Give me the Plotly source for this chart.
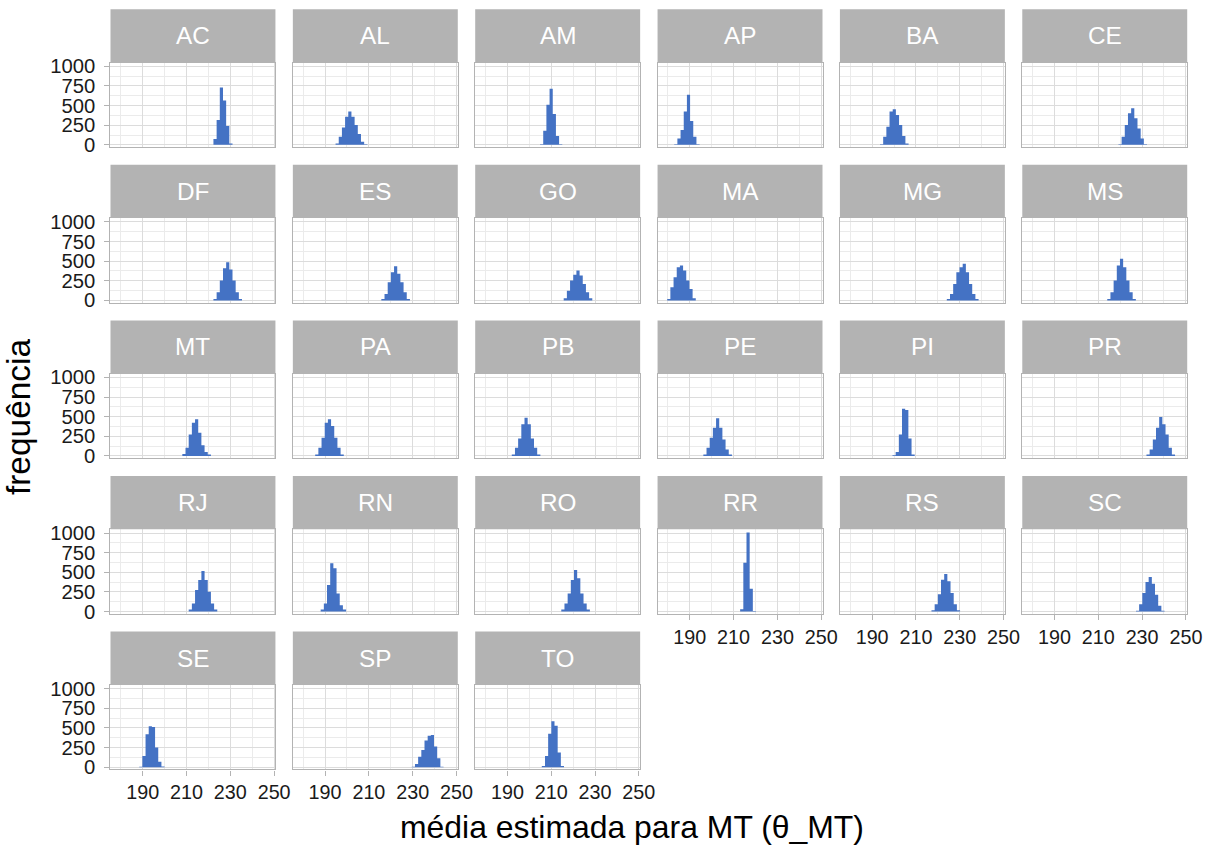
import plotly.graph_objects as go

# ---------------- data ----------------
STATES = ["AC", "AL", "AM", "AP", "BA", "CE",
          "DF", "ES", "GO", "MA", "MG", "MS",
          "MT", "PA", "PB", "PE", "PI", "PR",
          "RJ", "RN", "RO", "RR", "RS", "SC",
          "SE", "SP", "TO"]

BIN_WIDTH = 1.45

FIRST_EDGE = [222.3, 194.8, 204.9, 182.9, 193.6, 219.2,
              222.3, 215.7, 215.7, 179.7, 224.1, 214.1,
              208.1, 185.5, 192.0, 196.2, 199.3, 232.0,
              211.0, 188.0, 214.6, 213.0, 217.1, 227.2,
              188.4, 229.6, 205.7]

COUNTS = [
    [73, 316, 731, 564, 240, 17],                      # AC
    [17, 103, 222, 359, 423, 359, 252, 137, 38, 9],    # AL
    [9, 180, 509, 714, 393, 111, 9],                   # AM
    [9, 81, 188, 423, 637, 303, 103, 9],               # AP
    [9, 103, 231, 423, 453, 380, 252, 111, 17],        # BA
    [9, 103, 252, 402, 466, 338, 209, 81, 9],          # CE
    [17, 103, 252, 410, 487, 393, 252, 103, 17],       # DF
    [17, 81, 231, 359, 436, 338, 231, 103, 17],        # ES
    [26, 124, 252, 325, 380, 316, 209, 103, 26],       # GO
    [17, 166, 295, 423, 444, 380, 252, 145, 26],       # MA
    [17, 81, 209, 359, 423, 466, 359, 209, 81, 17],    # MG
    [17, 103, 252, 444, 530, 423, 252, 103, 17],       # MS
    [26, 103, 274, 423, 466, 295, 137, 51, 17],        # MT
    [17, 103, 231, 423, 466, 380, 231, 103, 17],       # PA
    [17, 103, 222, 402, 487, 402, 222, 103, 17],       # PB
    [17, 103, 231, 359, 479, 359, 209, 81, 17],        # PE
    [9, 51, 274, 600, 585, 222, 17],                   # PI
    [17, 81, 209, 359, 496, 402, 274, 103, 17],        # PR
    [26, 103, 274, 402, 515, 402, 252, 103, 26],       # RJ
    [26, 103, 338, 615, 551, 231, 81, 26],             # RN
    [26, 103, 231, 402, 530, 423, 231, 103, 26],       # RO
    [30, 620, 1008, 290, 8],                           # RR
    [17, 94, 222, 406, 478, 385, 235, 94, 17],         # RS
    [9, 94, 235, 376, 440, 355, 214, 73, 9],           # SC
    [5, 142, 420, 519, 510, 249, 69, 8],               # SE
    [4, 39, 133, 219, 339, 399, 408, 262, 112, 4],     # SP
    [13, 142, 425, 584, 528, 185, 13],                 # TO
]

X_TICKS = [190, 210, 230, 250]
X_MINOR = [180, 200, 220, 240]
Y_TICKS = [0, 250, 500, 750, 1000]
Y_MINOR = [125, 375, 625, 875]
X_RANGE = [175.3, 250.6]
Y_RANGE = [-30, 1048]

X_TITLE = "média estimada para MT (θ_MT)"
Y_TITLE = "frequência"

# ---------------- layout geometry (target pixels) ----------------
W, H = 1214, 847
# the captured page shows the figure slightly reduced; compensate
SX, OX = 0.9868, 2.0
SY, OY = 0.9846, 6.0


def fx(p):
    return ((p - OX) / SX) / W


def fy(p):
    return 1 - ((p - OY) / SY) / H


def fs(s):
    return s / SX


COL_LEFT = [112.4, 294.6, 476.8, 659.0, 841.2, 1023.4]
PANEL_W = 164.8
ROW_TOP = [8.3, 164.4, 320.5, 476.7, 632.8]
STRIP_H = 53.4
PLOT_H = 85.0
NCOL = 6

FONT = "Liberation Sans, Arial, sans-serif"
BAR_COLOR = "#4472C4"
STRIP_COLOR = "#b3b3b3"
BORDER_COLOR = "#b3b3b3"
GRID_MAJOR = "#dcdcdc"
GRID_MINOR = "#ebebeb"

fig = go.Figure()
layout = dict(
    width=W, height=H,
    margin=dict(l=0, r=0, t=0, b=0),
    paper_bgcolor="white", plot_bgcolor="white",
    showlegend=False,
    font=dict(family=FONT, color="#1a1a1a"),
)
shapes = []
annotations = []

n = len(STATES)
for i, st in enumerate(STATES):
    r, c = divmod(i, NCOL)
    k = i + 1
    xa = "x" if k == 1 else f"x{k}"
    ya = "y" if k == 1 else f"y{k}"
    L = COL_LEFT[c]
    T = ROW_TOP[r]
    x0, x1 = fx(L), fx(L + PANEL_W)
    y_top = fy(T + STRIP_H)
    y_bot = fy(T + STRIP_H + PLOT_H)

    cnt = COUNTS[i]
    edges = [FIRST_EDGE[i] + BIN_WIDTH * j for j in range(len(cnt) + 1)]
    fig.add_trace(go.Scatter(
        x=edges, y=cnt + [cnt[-1]], mode="lines",
        line=dict(shape="hv", width=0, color=BAR_COLOR),
        fill="tozeroy", fillcolor=BAR_COLOR,
        xaxis=xa, yaxis=ya, showlegend=False, name=st,
    ))

    show_x = (i + NCOL) >= n
    show_y = (c == 0)

    layout["xaxis" if k == 1 else f"xaxis{k}"] = dict(
        domain=[x0, x1], anchor=ya, range=X_RANGE,
        tickmode="array", tickvals=X_TICKS,
        showticklabels=show_x, ticks="outside" if show_x else "",
        ticklen=5, tickcolor=BORDER_COLOR, tickwidth=1,
        tickfont=dict(size=fs(19.5), color="#1a1a1a", family=FONT),
        showgrid=True, gridcolor=GRID_MAJOR, gridwidth=1,
        minor=dict(tickmode="array", tickvals=X_MINOR,
                   showgrid=True, gridcolor=GRID_MINOR, gridwidth=0.8, ticks=""),
        showline=True, mirror=True, linecolor=BORDER_COLOR, linewidth=1.3,
        zeroline=False, fixedrange=True,
    )
    layout["yaxis" if k == 1 else f"yaxis{k}"] = dict(
        domain=[y_bot, y_top], anchor=xa, range=Y_RANGE,
        tickmode="array", tickvals=Y_TICKS,
        showticklabels=show_y, ticks="outside" if show_y else "",
        ticklen=5, tickcolor=BORDER_COLOR, tickwidth=1,
        ticklabelstandoff=5,
        tickfont=dict(size=fs(20), color="#1a1a1a", family=FONT),
        showgrid=True, gridcolor=GRID_MAJOR, gridwidth=1,
        minor=dict(tickmode="array", tickvals=Y_MINOR,
                   showgrid=True, gridcolor=GRID_MINOR, gridwidth=0.8, ticks=""),
        showline=True, mirror=True, linecolor=BORDER_COLOR, linewidth=1.3,
        zeroline=False, fixedrange=True,
    )

    shapes.append(dict(
        type="rect", xref="paper", yref="paper",
        x0=x0, x1=x1, y0=y_top, y1=fy(T),
        fillcolor=STRIP_COLOR, line=dict(width=0), layer="above",
    ))
    annotations.append(dict(
        text=st, xref="paper", yref="paper",
        x=(x0 + x1) / 2, y=fy(T + STRIP_H / 2),
        xanchor="center", yanchor="middle", showarrow=False,
        font=dict(size=fs(24), color="white", family=FONT),
    ))

annotations.append(dict(
    text=X_TITLE, xref="paper", yref="paper",
    x=fx(633.5), y=fy(829), xanchor="center", yanchor="middle",
    showarrow=False, font=dict(size=fs(31.5), color="#000000", family=FONT),
))
annotations.append(dict(
    text=Y_TITLE, xref="paper", yref="paper",
    x=fx(20), y=fy(417.5), xanchor="center", yanchor="middle",
    textangle=-90, showarrow=False,
    font=dict(size=fs(33), color="#000000", family=FONT),
))

layout["shapes"] = shapes
layout["annotations"] = annotations
fig.update_layout(**layout)
fig.write_html("out.html")
